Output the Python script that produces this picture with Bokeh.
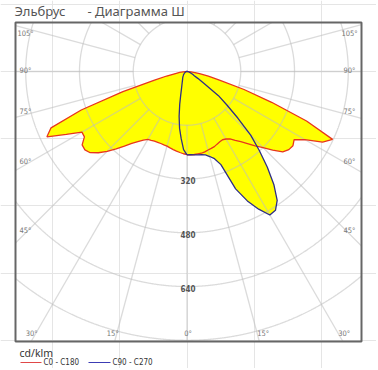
import numpy as np
from bokeh.plotting import figure
from bokeh.models import Range1d
from bokeh.embed import file_html
from bokeh.resources import INLINE
from bokeh.core.properties import value

# ---------------- data (cd/klm) ----------------
gamma = [0, 2.5, 5, 7.5, 10, 12.5, 15, 17.5, 20, 22.5, 25, 27.5, 30, 32.5, 35, 37.5,
         40, 42.5, 45, 47.5, 50, 52.5, 55, 57.5, 60, 62.5, 65, 67.5, 70, 72.5, 75,
         77.5, 80, 82.5, 85, 87.5, 90]
c0 = [248, 248, 248, 247, 247, 245, 242, 240, 238, 234, 231, 229, 232, 238, 250, 263,
      280, 300, 320, 346, 372, 382, 385, 378, 405, 455, 478, 385, 268, 178, 100,
      65, 38, 24, 12, 5, 0]
c180 = [247, 245, 242, 239, 236, 233, 230, 229, 228, 228, 229, 231, 233, 242, 255, 270,
        290, 312, 336, 358, 376, 383, 381, 362, 361, 405, 460, 438, 335, 200, 100,
        62, 35, 22, 12, 5, 0]
c90 = [248, 248, 249, 250, 251, 254, 262, 272, 295, 378, 425, 462, 493, 490, 468, 425,
       372, 318, 268, 205, 155, 118, 60, 38, 25, 20, 16, 13, 10, 8, 6,
       5, 4, 3, 2, 1, 0]
c270 = [248, 233, 200, 170, 135, 100, 72, 55, 45, 38, 33, 29, 26, 24, 22, 20,
        18, 16, 15, 14, 12, 11, 10, 9, 8, 7, 6, 5, 5, 4, 4,
        3, 3, 2, 2, 1, 0]

circle_values = [160, 320, 480, 640, 800]
circle_labels = ["320", "480", "640"]
side_angles = [105, 90, 75, 60, 45]
bottom_angles = [-30, -15, 0, 15, 30]
title_left = "Эльбрус"
title_right = "- Диаграмма Ш"
unit_label = "cd/klm"
series_names = ["C0 - C180", "C90 - C270"]

# ---------------- layout (page pixels) ----------------
W, H = 376, 368
LEFT, TOP = 0, 0
CX, CY, S = 186.5, 71.0, 0.336
BL, BR, BT, BB = 15, 361, 22, 341


def X(px):
    return (px - CX) / S


def Y(py):
    return (CY - py) / S


p = figure(width=W, height=H,
           x_range=Range1d(X(LEFT), X(LEFT + W)), y_range=Range1d(Y(TOP + H), Y(TOP)),
           min_border=0, toolbar_location=None, output_backend="svg",
           x_axis_location=None, y_axis_location=None, outline_line_color=None)
p.background_fill_color = "white"
p.border_fill_color = "white"


def half(vals, sign):
    g = np.radians(np.array(gamma, dtype=float))
    v = np.array(vals, dtype=float)
    return sign * v * np.sin(g), -v * np.cos(g)


def closed(right, left):
    xr, yr = half(right, 1)
    xl, yl = half(left, -1)
    return np.concatenate([xr, xl[::-1]]), np.concatenate([yr, yl[::-1]])


red_x, red_y = closed(c0, c180)
blue_x, blue_y = closed(c90, c270)

YELLOW = "#FFFF00"
p.patch(red_x, red_y, fill_color=YELLOW, line_color=None)
p.patch(blue_x, blue_y, fill_color=YELLOW, line_color=None)

# ---------------- grid ----------------
xl, xr, yt, yb = X(BL), X(BR), Y(BT), Y(BB)
gx, gy = [], []
th = np.linspace(0, 2 * np.pi, 3000)
for r in circle_values:
    cx = r * np.sin(th)
    cy = -r * np.cos(th)
    mask = (cx < xl) | (cx > xr) | (cy > yt) | (cy < yb)
    cx[mask] = np.nan
    cy[mask] = np.nan
    gx.append(cx)
    gy.append(cy)
r0 = circle_values[0]
for a in range(0, 360, 15):
    ar = np.radians(a)
    dx, dy = np.sin(ar), -np.cos(ar)
    ts = []
    if dx > 1e-9:
        ts.append(xr / dx)
    if dx < -1e-9:
        ts.append(xl / dx)
    if dy > 1e-9:
        ts.append(yt / dy)
    if dy < -1e-9:
        ts.append(yb / dy)
    t = min(ts)
    if t > r0:
        gx.append(np.array([r0 * dx, t * dx]))
        gy.append(np.array([r0 * dy, t * dy]))
for xs, ys in zip(gx, gy):
    p.line(xs, ys, line_color="#BDBDBD", line_alpha=0.55, line_width=1.3)

# ---------------- curves ----------------
RED = "#E8361C"
BLUE = "#2E2E86"
p.line(red_x, red_y, line_color=RED, line_width=1.3)
p.line(blue_x, blue_y, line_color=BLUE, line_width=1.3)

# frame box
p.quad(left=[xl], right=[xr], top=[yt], bottom=[yb], fill_color=None,
       line_color="#666666", line_width=2)

# ---------------- labels ----------------
lab_font = value("DejaVu Sans Condensed")
sx, sy, st = [], [], []
for a in side_angles:
    cot = np.cos(np.radians(a)) / np.sin(np.radians(a))
    ypx = CY + (CX - 25) * cot - 3 if a != 90 else CY - 1
    ypx = max(ypx, BT + 11)
    sx += [X(25), X(349)]
    sy += [Y(ypx), Y(ypx)]
    st += [f"{a}°", f"{a}°"]
for a in bottom_angles:
    dxp = (333 - CY) * np.tan(np.radians(a))
    dxp += 5 * np.sign(a)
    sx.append(X(CX + 1 + dxp))
    sy.append(Y(333))
    st.append(f"{abs(a)}°")
p.text(x=sx, y=sy, text=st, text_font=lab_font, text_font_size=value("7.5px"),
       text_color="#777777", text_align="center", text_baseline="middle")

cl_y = [-float(v) for v in circle_values if str(v) in circle_labels]
p.text(x=[X(CX + 1)] * len(cl_y), y=[c - 1.5 / S for c in cl_y], text=circle_labels,
       text_font=lab_font, text_font_size=value("8px"), text_font_style="bold",
       text_color="#555555", text_align="center", text_baseline="middle")

# title
p.text(x=[X(14), X(87)], y=[Y(10.5), Y(10.5)], text=[title_left, title_right],
       text_font=value("Noto Sans"), text_font_size=value("13px"),
       text_color="#555555", text_align="left", text_baseline="middle")

# legend
p.text(x=[X(19)], y=[Y(352)], text=[unit_label], text_font=value("Noto Sans"),
       text_font_size=value("10.5px"), text_color="#333333",
       text_align="left", text_baseline="middle")
p.line([X(20), X(41)], [Y(362), Y(362)], line_color="#E04848", line_width=1.2)
p.line([X(88), X(110)], [Y(362), Y(362)], line_color="#3C3CB4", line_width=1.2)
p.text(x=[X(43), X(112)], y=[Y(362), Y(362)], text=series_names, text_font=lab_font,
       text_font_size=value("8px"), text_color="#333333",
       text_align="left", text_baseline="middle")

open("out.html", "w").write(file_html(p, INLINE))
